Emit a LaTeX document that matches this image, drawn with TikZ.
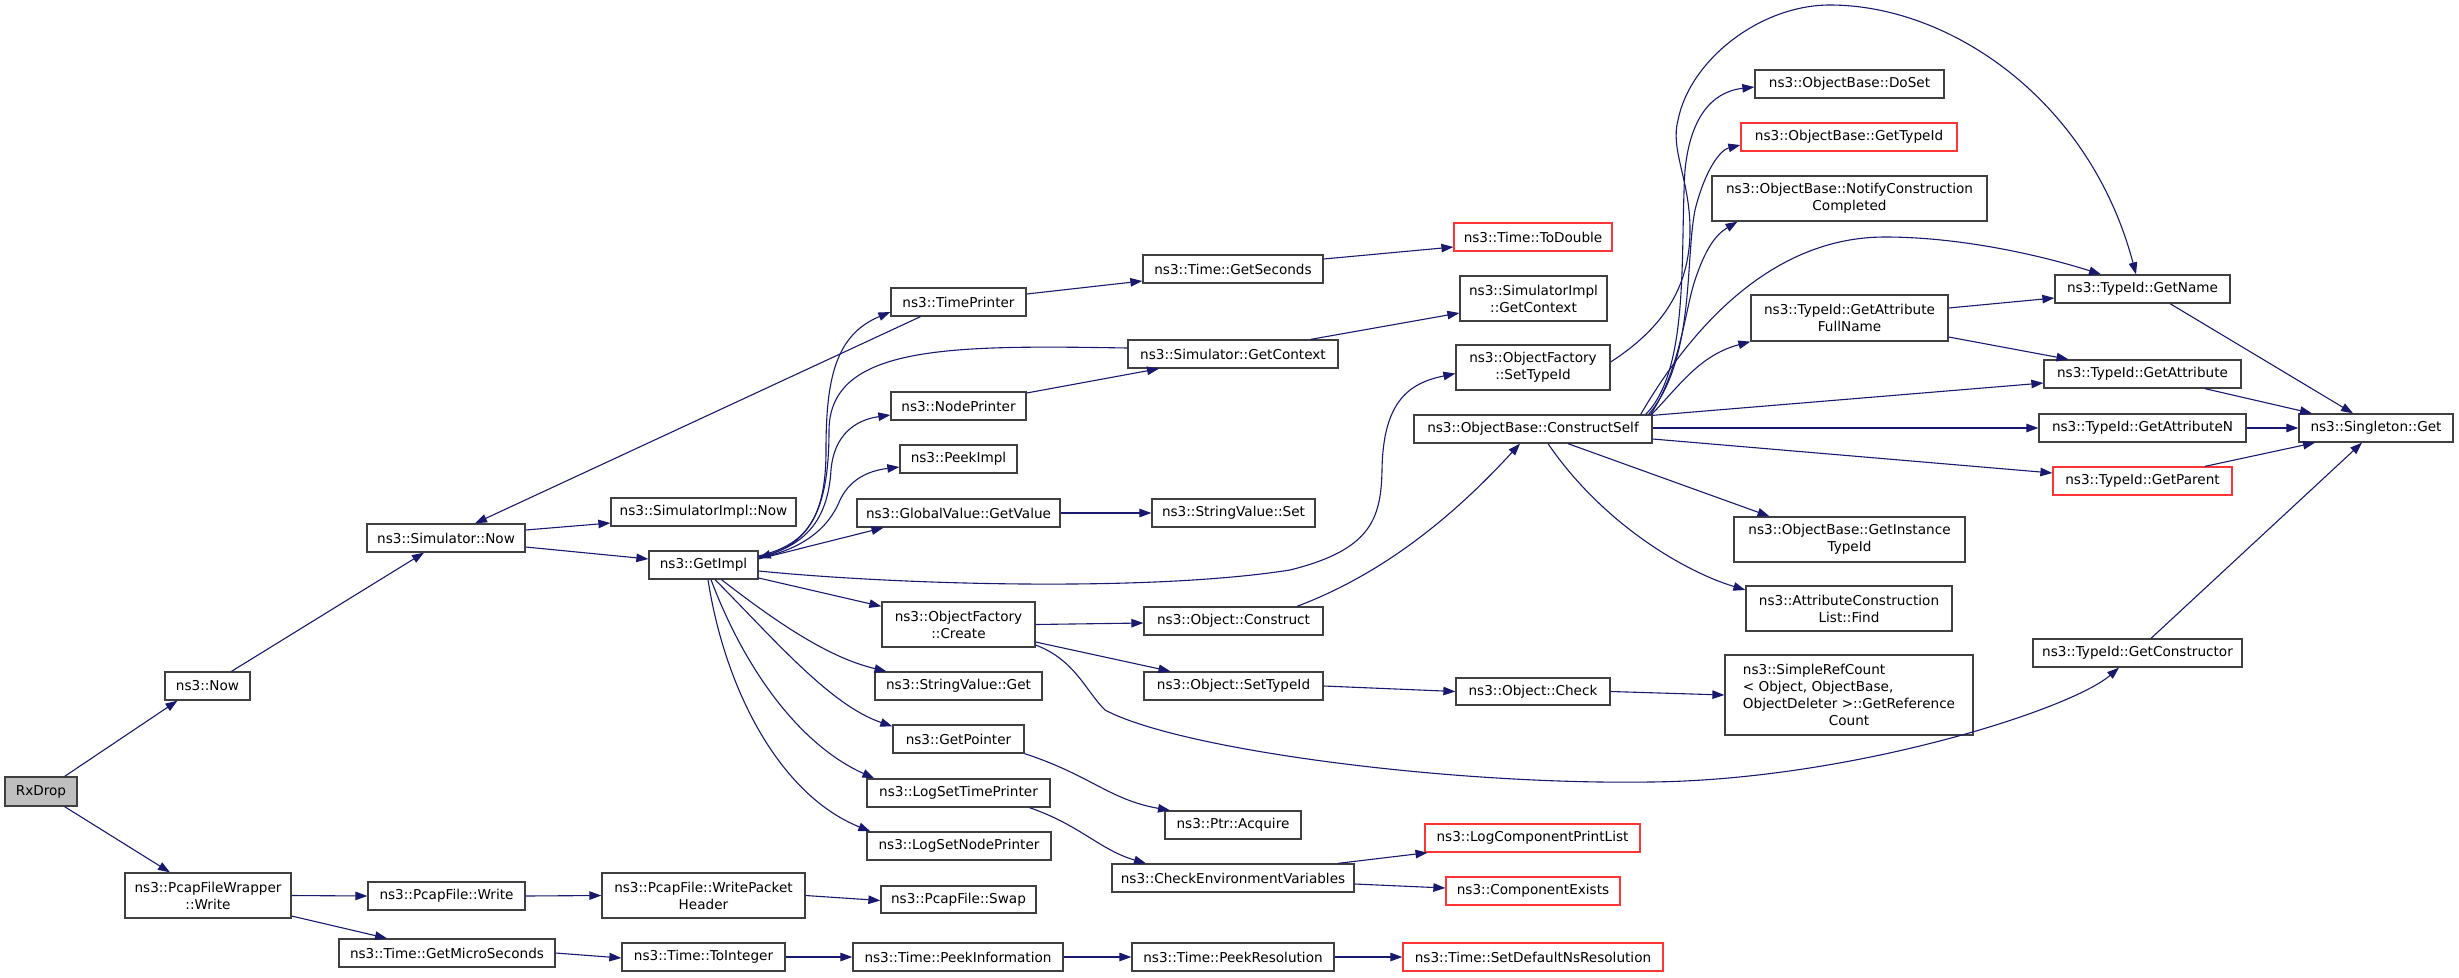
\documentclass[tikz,border=0pt]{standalone}
\usepackage{fontspec}
\usepackage{calc}
\setmainfont{DejaVu Sans}
\usetikzlibrary{arrows.meta}
\definecolor{edgec}{HTML}{191970}
\definecolor{boxc}{HTML}{404040}
\definecolor{redc}{HTML}{FF3535}
\definecolor{rootc}{HTML}{BFBFBF}
\newcommand\bx[7][]{\node[box,#1,minimum width={#5-#3},minimum height={#6-#4}] (#2) at ({(#3+#5)/2},{(#4+#6)/2}) {#7};}
\newcommand\refline[1]{\makebox[\widthof{ObjectDeleter >::GetReference}][l]{#1}}
\begin{document}
\begin{tikzpicture}[x=1pt,y=-1pt,
  box/.style={draw=boxc,line width=1.3pt,inner sep=0pt,align=center,fill=white,font=\fontsize{13.6}{17}\selectfont},
  trunc/.style={draw=redc},
  root/.style={fill=rootc},
  e/.style={draw=edgec,line width=1.1pt,-{Triangle[length=12pt,width=8.5pt]}}]
\fill[white] (0,0) rectangle (2459,977);
\useasboundingbox (0,0) rectangle (2459,977);
% nodes
\bx[root]{rx}{5}{777}{77}{806}{RxDrop}
\bx{now}{165}{672}{250}{700}{ns3::Now}
\bx{simnow}{367}{524}{525}{552}{ns3::Simulator::Now}
\bx{pfw}{125}{873}{291}{918}{ns3::PcapFileWrapper\\::Write}
\bx{pfwrite}{368}{882}{525}{910}{ns3::PcapFile::Write}
\bx{micro}{339}{939}{555}{967}{ns3::Time::GetMicroSeconds}
\bx{simimplnow}{611}{498}{796}{526}{ns3::SimulatorImpl::Now}
\bx{getimpl}{649}{551}{758}{579}{ns3::GetImpl}
\bx{timeprinter}{891}{288}{1026}{316}{ns3::TimePrinter}
\bx{nodeprinter}{891}{392}{1026}{420}{ns3::NodePrinter}
\bx{peekimpl}{900}{445}{1017}{473}{ns3::PeekImpl}
\bx{gvget}{857}{499}{1060}{527}{ns3::GlobalValue::GetValue}
\bx{ofcreate}{882}{602}{1035}{647}{ns3::ObjectFactory\\::Create}
\bx{svget}{875}{672}{1042}{700}{ns3::StringValue::Get}
\bx{getpointer}{893}{725}{1024}{753}{ns3::GetPointer}
\bx{logtime}{867}{779}{1050}{807}{ns3::LogSetTimePrinter}
\bx{lognode}{867}{832}{1051}{860}{ns3::LogSetNodePrinter}
\bx{wph}{602}{873}{805}{918}{ns3::PcapFile::WritePacket\\Header}
\bx{swap}{881}{886}{1036}{913}{ns3::PcapFile::Swap}
\bx{toint}{622}{943}{785}{971}{ns3::Time::ToInteger}
\bx{peekinfo}{853}{943}{1063}{971}{ns3::Time::PeekInformation}
\bx{peekres}{1132}{943}{1334}{971}{ns3::Time::PeekResolution}
\bx[trunc]{setdef}{1403}{943}{1663}{971}{ns3::Time::SetDefaultNsResolution}
\bx{getsec}{1143}{255}{1323}{283}{ns3::Time::GetSeconds}
\bx[trunc]{todouble}{1454}{223}{1612}{251}{ns3::Time::ToDouble}
\bx{simgetctx}{1128}{340}{1338}{368}{ns3::Simulator::GetContext}
\bx{simimplctx}{1460}{276}{1607}{321}{ns3::SimulatorImpl\\::GetContext}
\bx{ofsettype}{1456}{345}{1610}{390}{ns3::ObjectFactory\\::SetTypeId}
\bx{svset}{1152}{499}{1315}{527}{ns3::StringValue::Set}
\bx{construct}{1144}{607}{1323}{635}{ns3::Object::Construct}
\bx{objsettype}{1144}{672}{1323}{700}{ns3::Object::SetTypeId}
\bx{ptracq}{1165}{811}{1301}{839}{ns3::Ptr::Acquire}
\bx{checkenv}{1112}{864}{1354}{892}{ns3::CheckEnvironmentVariables}
\bx[trunc]{logcomp}{1425}{824}{1640}{852}{ns3::LogComponentPrintList}
\bx[trunc]{compexists}{1446}{877}{1620}{905}{ns3::ComponentExists}
\bx{check}{1456}{678}{1610}{705}{ns3::Object::Check}
\bx{constructself}{1414}{415}{1652}{443}{ns3::ObjectBase::ConstructSelf}
\bx{doset}{1755}{70}{1944}{98}{ns3::ObjectBase::DoSet}
\bx[trunc]{gettypeid}{1741}{123}{1957}{151}{ns3::ObjectBase::GetTypeId}
\bx{notify}{1712}{176}{1987}{221}{ns3::ObjectBase::NotifyConstruction\\Completed}
\bx{fullname}{1751}{295}{1948}{341}{ns3::TypeId::GetAttribute\\FullName}
\bx{instance}{1734}{517}{1965}{562}{ns3::ObjectBase::GetInstance\\TypeId}
\bx{find}{1746}{586}{1952}{631}{ns3::AttributeConstruction\\List::Find}
\bx{refcount}{1725}{655}{1973}{735}{\refline{ns3::SimpleRefCount}\\\refline{< Object, ObjectBase,}\\ObjectDeleter >::GetReference\\Count}
\bx{getname}{2055}{275}{2230}{303}{ns3::TypeId::GetName}
\bx{getattr}{2044}{360}{2241}{388}{ns3::TypeId::GetAttribute}
\bx{getattrn}{2039}{414}{2246}{442}{ns3::TypeId::GetAttributeN}
\bx[trunc]{getparent}{2053}{467}{2232}{495}{ns3::TypeId::GetParent}
\bx{singleton}{2299}{414}{2453}{442}{ns3::Singleton::Get}
\bx{getctor}{2033}{639}{2242}{667}{ns3::TypeId::GetConstructor}
% edges
\draw[e] ([xshift=-13pt]rx.north east) -- ([xshift=-30pt]now.south);
\draw[e] ([xshift=-13pt]rx.south east) -- ([xshift=-38pt]pfw.north);
\draw[e] ([xshift=24pt]now.north) -- ([xshift=-22pt]simnow.south);
\draw[e] ([xshift=-38pt]timeprinter.south) -- ([xshift=29pt]simnow.north);
\draw[e] ([yshift=8pt]simnow.east) -- ([yshift=-11pt]simimplnow.west);
\draw[e] ([yshift=-9pt]simnow.east) -- ([yshift=6pt]getimpl.west);
\draw[e] ([yshift=9pt]getimpl.east) .. controls (805,545) and (826,520) .. (826,450) .. controls (826,380) and (835,335) .. ([yshift=-10pt]timeprinter.west);
\draw[e] ([yshift=8pt]getimpl.east) .. controls (805,547) and (828,520) .. (831,470) .. controls (834,435) and (855,420) .. ([yshift=-9pt]nodeprinter.west);
\draw[e] ([yshift=7pt]getimpl.east) .. controls (800,550) and (828,530) .. (840,500) .. controls (852,475) and (875,470) .. ([yshift=-8pt]peekimpl.west);
\draw[e] ([yshift=6pt]simgetctx.west) .. controls (950,345) and (830,345) .. (829,430) .. controls (829,500) and (815,540) .. ([yshift=7pt]getimpl.east);
\draw[e] ([yshift=6pt]getimpl.east) -- ([xshift=-75pt]gvget.south);
\draw[e] ([yshift=-6pt]getimpl.east) .. controls (900,585) and (1150,592) .. (1290,570) .. controls (1370,550) and (1381,520) .. (1382,470) .. controls (1383,400) and (1410,383) .. ([yshift=-6pt]ofsettype.west);
\draw[e] ([yshift=-13pt]getimpl.east) -- ([yshift=-5pt]ofcreate.north west);
\draw[e] ([xshift=18pt]getimpl.south) .. controls (780,625) and (830,658) .. ([xshift=-72pt]svget.north);
\draw[e] ([xshift=11.5pt]getimpl.south) .. controls (775,640) and (830,705) .. ([yshift=-2pt]getpointer.north west);
\draw[e] ([xshift=7.5pt]getimpl.south) .. controls (745,670) and (800,745) .. ([xshift=8pt]logtime.north west);
\draw[e] ([xshift=4.5pt]getimpl.south) .. controls (725,690) and (780,795) .. ([xshift=4pt]lognode.north west);
\draw[e] ([xshift=-28pt]simgetctx.north east) -- ([yshift=-14.5pt]simimplctx.west);
\draw[e] ([yshift=13pt]nodeprinter.east) -- ([xshift=-74pt]simgetctx.south);
\draw[e] ([yshift=8pt]timeprinter.east) -- ([yshift=-12pt]getsec.west);
\draw[e] ([yshift=10pt]getsec.east) -- ([yshift=-10pt]todouble.west);
\draw[e] (gvget.east) -- (svset.west);
\draw[e] (ofcreate.east) -- ([yshift=-2pt]construct.west);
\draw[e] ([yshift=-17.5pt]ofcreate.east) -- ([xshift=-63pt]objsettype.north);
\draw[e] ([yshift=-20.5pt]ofcreate.east) .. controls (1075,660) and (1085,690) .. (1105,710) .. controls (1180,750) and (1450,785) .. (1650,782) .. controls (1850,780) and (2070,710) .. ([xshift=-18.5pt]getctor.south);
\draw[e] ([xshift=63.5pt]construct.north) .. controls (1380,575) and (1450,520) .. ([xshift=-13pt]constructself.south);
\draw[e] (getpointer.south east) .. controls (1090,775) and (1110,800) .. ([xshift=-63pt]ptracq.north);
\draw[e] ([xshift=71pt]logtime.south) .. controls (1080,825) and (1100,850) .. ([xshift=-87pt]checkenv.north);
\draw[e] (objsettype.east) -- (check.west);
\draw[e] (check.east) -- (refcount.west);
\draw[e] ([xshift=105pt]checkenv.north) -- ([xshift=-105pt]logcomp.south);
\draw[e] ([yshift=-6pt]checkenv.east) -- ([yshift=3pt]compexists.west);
\draw[e] (pfw.east) -- (pfwrite.west);
\draw[e] ([yshift=-20.5pt]pfw.east) -- ([xshift=-60pt]micro.north);
\draw[e] (pfwrite.east) -- (wph.west);
\draw[e] (wph.east) -- ([yshift=-1pt]swap.west);
\draw[e] (micro.east) -- ([yshift=-1pt]toint.west);
\draw[e] (toint.east) -- (peekinfo.west);
\draw[e] (peekinfo.east) -- (peekres.west);
\draw[e] (peekres.east) -- (setdef.west);
% ConstructSelf fan
\draw[e] ([xshift=-7pt]constructself.north east) .. controls (1690,370) and (1680,250) .. (1685,170) .. controls (1690,120) and (1710,92) .. ([yshift=-3pt]doset.west);
\draw[e] ([xshift=-4pt]constructself.north east) .. controls (1695,360) and (1685,260) .. (1695,210) .. controls (1705,170) and (1720,150) .. ([yshift=-8pt]gettypeid.west);
\draw[e] ([xshift=-2pt]constructself.north east) .. controls (1680,370) and (1685,310) .. (1695,280) .. controls (1705,250) and (1715,235) .. ([xshift=-112pt]notify.south);
\draw[e] ([xshift=-12pt]constructself.north east) .. controls (1690,330) and (1770,237) .. (1885,237) .. controls (1960,237) and (2040,255) .. ([xshift=-41.5pt]getname.north);
\draw[e] ([yshift=5.5pt]ofsettype.east) .. controls (1660,330) and (1690,290) .. (1690,230) .. controls (1690,180) and (1670,150) .. (1678,120) .. controls (1690,60) and (1760,5) .. (1830,5) .. controls (1950,5) and (2090,100) .. ([xshift=-6.5pt]getname.north);
\draw[e] ([xshift=-1pt]constructself.north east) .. controls (1680,385) and (1700,355) .. (fullname.south west);
\draw[e] ([yshift=-1pt]constructself.north east) -- ([yshift=-9pt]getattr.west);
\draw[e] ([yshift=1pt]constructself.east) -- (getattrn.west);
\draw[e] ([yshift=-10pt]constructself.east) -- ([yshift=8pt]getparent.west);
\draw[e] ([xshift=35pt]constructself.south) -- ([xshift=-80pt]instance.north);
\draw[e] ([xshift=15pt]constructself.south) .. controls (1600,520) and (1680,570) .. ([yshift=18.5pt]find.west);
\draw[e] ([yshift=10pt]fullname.east) -- ([yshift=-9pt]getname.west);
\draw[e] ([yshift=-19pt]fullname.east) -- ([xshift=-74pt]getattr.north);
\draw[e] ([xshift=27.5pt]getname.south) -- ([xshift=-23pt]singleton.north);
\draw[e] ([xshift=62.5pt]getattr.south) -- ([xshift=-64pt]singleton.north);
\draw[e] (getattrn.east) -- (singleton.west);
\draw[e] ([xshift=62.5pt]getparent.north) -- ([xshift=-61pt]singleton.south);
\draw[e] ([xshift=13.5pt]getctor.north) -- ([xshift=-14pt]singleton.south);
\end{tikzpicture}
\end{document}
